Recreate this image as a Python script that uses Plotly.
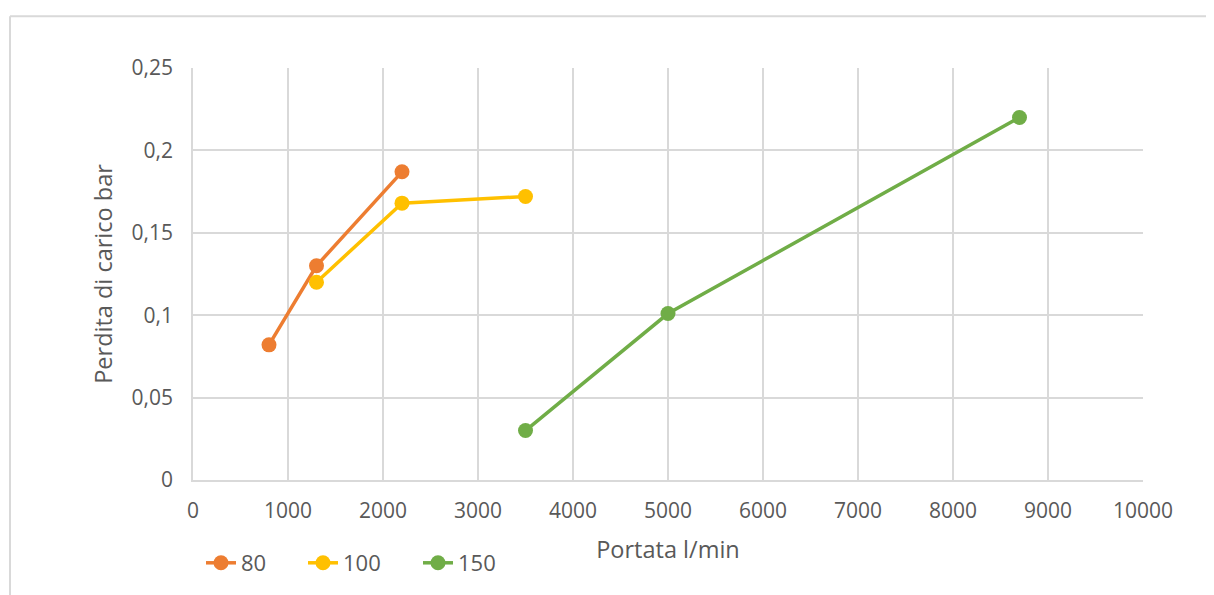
import plotly.graph_objects as go

x80 = [800, 1300, 2200]
y80 = [0.082, 0.13, 0.187]
x100 = [1300, 2200, 3500]
y100 = [0.12, 0.168, 0.172]
x150 = [3500, 5000, 8700]
y150 = [0.03, 0.101, 0.22]

series = [("80", x80, y80, "#ED7D31", "legend"),
          ("100", x100, y100, "#FFC000", "legend2"),
          ("150", x150, y150, "#70AD47", "legend3")]

fig = go.Figure()
for name, xs, ys, col, lg in series:
    fig.add_trace(go.Scatter(x=xs, y=ys, name=name, mode="lines+markers",
                             line=dict(color=col, width=3.5),
                             marker=dict(color=col, size=15), legend=lg))

OFF = 8  # default body margin in page
L, R, T, B = 193 - OFF, 71, 68 - OFF, 114
pw, ph = 950, 413
FW = L + pw + R
FH = T + ph + B

def px(x):
    return (x - OFF - L) / pw

def py(y):
    return (T + ph - (y - OFF)) / ph

font = dict(family="Open Sans", color="#595959", size=21)
legfont = dict(family="Open Sans", color="#595959", size=22)

def leg(xpix):
    return dict(orientation="h", x=px(xpix), y=py(563), xanchor="left", yanchor="middle",
                font=legfont, bgcolor="rgba(0,0,0,0)")

fig.update_layout(
    width=FW, height=FH, margin=dict(l=L, r=R, t=T, b=B),
    paper_bgcolor="white", plot_bgcolor="white",
    separators=",.",
    font=font,
    showlegend=True,
    legend=leg(201), legend2=leg(303), legend3=leg(418),
    xaxis=dict(range=[0, 10000], dtick=1000, tickformat="d", showgrid=True, gridcolor="#D9D9D9",
               gridwidth=1.5, showline=True, linecolor="#D9D9D9", linewidth=1.5, zeroline=False,
               ticks="", ticklabelstandoff=11,
               title=dict(text="Portata l/min", standoff=19, font=dict(size=23.5)),
               tickfont=font),
    yaxis=dict(range=[0, 0.25], dtick=0.05, showgrid=True, gridcolor="#D9D9D9", gridwidth=1.5,
               showline=True, linecolor="#D9D9D9", linewidth=1.5, zeroline=False, ticks="",
               ticklabelstandoff=14,
               title=dict(text="Perdita di carico bar", standoff=12, font=dict(size=23.5)),
               tickfont=font),
    shapes=[
        dict(type="line", xref="paper", yref="paper", x0=px(10), x1=px(1300), y0=py(16), y1=py(16),
             line=dict(color="#D9D9D9", width=2)),
        dict(type="line", xref="paper", yref="paper", x0=px(10), x1=px(10), y0=py(16), y1=py(700),
             line=dict(color="#D9D9D9", width=2)),
    ],
)
fig.write_html("out.html")
